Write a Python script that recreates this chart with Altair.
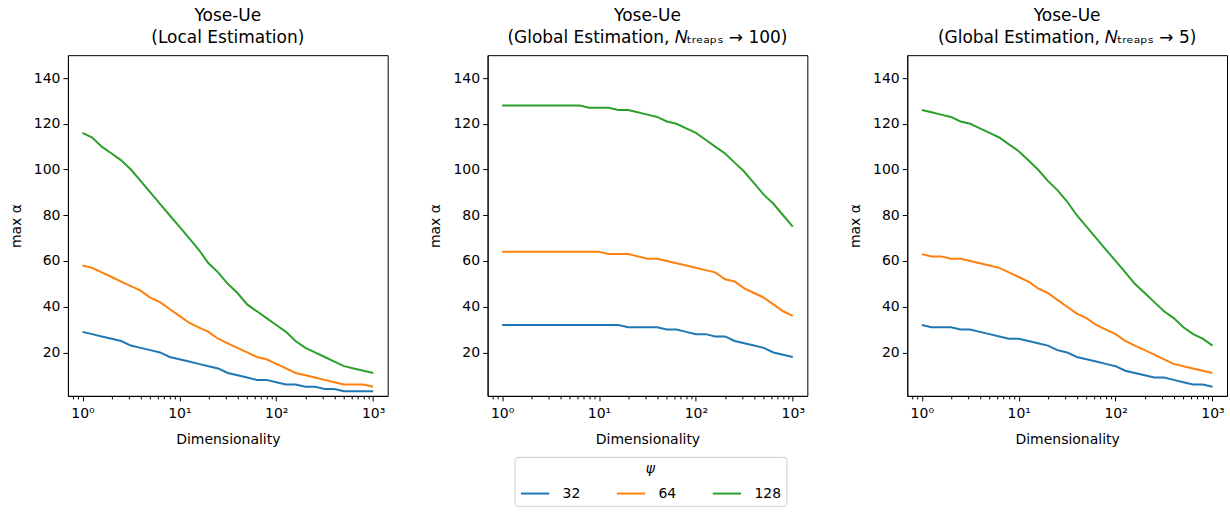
import altair as alt
import pandas as pd

# Dimensionality sample points (log-spaced)
dims = [1, 1.26, 1.58, 2.0, 2.51, 3.16, 3.98, 5.01, 6.31, 7.94,
        10, 12.6, 15.8, 20.0, 25.1, 31.6, 39.8, 50.1, 63.1, 79.4,
        100, 126, 158, 200, 251, 316, 398, 501, 631, 794, 1000]

psi_levels = ["32", "64", "128"]
colors = ["#1f77b4", "#ff7f0e", "#2ca02c"]

# Panel 1: Local Estimation
local_32 = [29, 28, 27, 26, 25, 23, 22, 21, 20, 18, 17, 16, 15, 14, 13, 11,
            10, 9, 8, 8, 7, 6, 6, 5, 5, 4, 4, 3, 3, 3, 3]
local_64 = [58, 57, 55, 53, 51, 49, 47, 44, 42, 39, 36, 33, 31, 29, 26, 24,
            22, 20, 18, 17, 15, 13, 11, 10, 9, 8, 7, 6, 6, 6, 5]
local_128 = [116, 114, 110, 107, 104, 100, 95, 90, 85, 80, 75, 70, 65, 59, 55, 50,
             46, 41, 38, 35, 32, 29, 25, 22, 20, 18, 16, 14, 13, 12, 11]

# Panel 2: Global Estimation, N_treaps -> 100
g100_32 = [32, 32, 32, 32, 32, 32, 32, 32, 32, 32, 32, 32, 32, 31, 31, 31,
           31, 30, 30, 29, 28, 28, 27, 27, 25, 24, 23, 22, 20, 19, 18]
g100_64 = [64, 64, 64, 64, 64, 64, 64, 64, 64, 64, 64, 63, 63, 63, 62, 61,
           61, 60, 59, 58, 57, 56, 55, 52, 51, 48, 46, 44, 41, 38, 36]
g100_128 = [128, 128, 128, 128, 128, 128, 128, 128, 128, 127, 127, 127, 126, 126, 125, 124,
            123, 121, 120, 118, 116, 113, 110, 107, 103, 99, 94, 89, 85, 80, 75]

# Panel 3: Global Estimation, N_treaps -> 5
g5_32 = [32, 31, 31, 31, 30, 30, 29, 28, 27, 26, 26, 25, 24, 23, 21, 20,
         18, 17, 16, 15, 14, 12, 11, 10, 9, 9, 8, 7, 6, 6, 5]
g5_64 = [63, 62, 62, 61, 61, 60, 59, 58, 57, 55, 53, 51, 48, 46, 43, 40,
         37, 35, 32, 30, 28, 25, 23, 21, 19, 17, 15, 14, 13, 12, 11]
g5_128 = [126, 125, 124, 123, 121, 120, 118, 116, 114, 111, 108, 104, 100, 95, 91, 86,
          80, 75, 70, 65, 60, 55, 50, 46, 42, 38, 35, 31, 28, 26, 23]

panels = {
    "local": {"32": local_32, "64": local_64, "128": local_128},
    "g100": {"32": g100_32, "64": g100_64, "128": g100_128},
    "g5": {"32": g5_32, "64": g5_64, "128": g5_128},
}
titles = {
    "local": ["Yose-Ue", "(Local Estimation)"],
    "g100": ["Yose-Ue", "(Global Estimation, 𝑁ₜᵣₑₐₚₛ → 100)"],
    "g5": ["Yose-Ue", "(Global Estimation, 𝑁ₜᵣₑₐₚₛ → 5)"],
}

rows = []
for pname, series in panels.items():
    for psi, vals in series.items():
        for d, v in zip(dims, vals):
            rows.append({"panel": pname, "dim": d, "psi": psi, "value": v})
df = pd.DataFrame(rows)

tick_vals = [0.8, 0.9] + [m * k for m in [1, 10, 100] for k in range(1, 10)] + [1000]

xaxis = alt.Axis(
    values=tick_vals,
    labelExpr="datum.value == 1 ? '10⁰' : datum.value == 10 ? '10¹' : datum.value == 100 ? '10²' : datum.value == 1000 ? '10³' : ''",
    tickSize={"condition": {"test": "indexof([1,10,100,1000], datum.value) >= 0", "value": 5}, "value": 3},
    labelOverlap=False,
    labelFlush=False,
    labelPadding=6,
    titlePadding=12,
)
yaxis = alt.Axis(values=[20, 40, 60, 80, 100, 120, 140], tickSize=5, labelPadding=3,
                 titlePadding=10)

legend = alt.Legend(
    orient="none", legendX=447, legendY=402, direction="horizontal",
    title="ψ", titleFontStyle="italic", titleAnchor="middle", titleOrient="top",
    symbolType="stroke", symbolSize=800, symbolStrokeWidth=2,
    labelFontSize=14, titleFontSize=14, titleFontWeight="normal",
    padding=5, strokeColor="#cccccc", fillColor="white", cornerRadius=3,
    columnPadding=32, labelOffset=12, titlePadding=2,
)


def panel(name):
    return alt.Chart(df[df.panel == name]).mark_line(strokeWidth=2, clip=True).encode(
        x=alt.X("dim:Q", scale=alt.Scale(type="log", domain=[0.708, 1413], nice=False),
                axis=xaxis, title="Dimensionality"),
        y=alt.Y("value:Q", scale=alt.Scale(domain=[1, 150], nice=False, zero=False),
                axis=yaxis, title="max α"),
        color=alt.Color("psi:N", scale=alt.Scale(domain=psi_levels, range=colors),
                        sort=psi_levels, legend=legend),
    ).properties(width=320, height=341,
                 title=alt.TitleParams(titles[name], anchor="middle"))


chart = alt.hconcat(panel("local"), panel("g100"), panel("g5"), spacing=39).properties(
    padding={"left": 8, "top": 6, "right": 2, "bottom": 2}
).configure_view(stroke="black", strokeWidth=1).configure_axis(
    labelFont="DejaVu Sans", titleFont="DejaVu Sans", labelFontSize=14, titleFontSize=14,
    labelColor="black", titleColor="black", tickColor="black", domainColor="black",
    titleFontWeight="normal", grid=False,
).configure_title(
    font="DejaVu Sans", fontSize=17, fontWeight="normal", color="black", lineHeight=22, offset=8,
).configure_legend(labelFont="DejaVu Sans", titleFont="DejaVu Sans", labelColor="black",
                   titleColor="black")

chart.save("out.html", embed_options={"renderer": "svg", "actions": False})
